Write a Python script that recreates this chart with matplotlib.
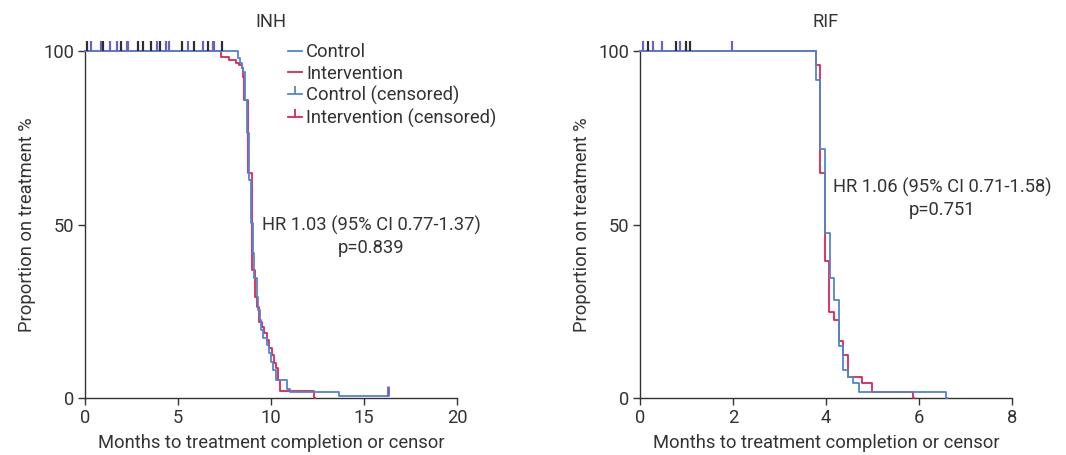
import matplotlib
matplotlib.use("Agg")
import matplotlib.pyplot as plt
from matplotlib.lines import Line2D

plt.rcParams['font.family'] = ['Roboto', 'DejaVu Sans']
plt.rcParams['font.size'] = 13
plt.rcParams['text.color'] = '#333333'
plt.rcParams['axes.labelcolor'] = '#333333'
plt.rcParams['xtick.color'] = '#333333'
plt.rcParams['ytick.color'] = '#333333'

FS = 13.2
BLUE = '#4f86d1'
RED = '#dd2456'
CENS_BLUE = '#6a62c4'
CENS_DARK = '#2e2e2e'

# INH panel: step curves (months, % on treatment)
inh_ctrl_t = [0, 8.24, 8.33, 8.42, 8.51, 8.60, 8.69, 8.82, 8.92, 9.01, 9.10, 9.23,
              9.32, 9.41, 9.46, 9.59, 9.77, 9.89, 10.00, 10.12, 10.27, 10.84,
              11.0, 13.66, 16.3]
inh_ctrl_s = [100, 97.9, 96.4, 95.0, 94.0, 85.9, 76.3, 62.8, 50.3, 41.8, 34.6, 29.2,
              25.4, 22.5, 19.6, 17.2, 15.3, 12.9, 10.5, 8.1, 5.2, 2.5,
              1.6, 0.6, 0.6]
inh_int_t = [0, 7.31, 7.76, 8.12, 8.30, 8.42, 8.48, 8.57, 8.75, 8.96, 9.14, 9.27,
             9.38, 9.50, 9.64, 9.77, 9.89, 10.04, 10.16, 10.27, 10.36, 10.48,
             12.30, 12.35]
inh_int_s = [100, 98.2, 97.4, 96.6, 96.0, 95.0, 92.6, 85.9, 64.8, 36.9, 29.2, 26.3,
             22.0, 20.5, 18.6, 16.7, 14.3, 12.4, 10.0, 8.6, 5.2, 2.1,
             0.0, 0.0]
inh_ctrl_cens_t = [0.32, 0.84, 0.91, 1.34, 1.74, 2.24, 2.31, 3.85, 4.35, 4.53,
                   5.52, 6.33, 6.86, 6.94]
inh_int_cens_t = [0.09, 0.99, 1.92, 2.83, 3.14, 3.53, 4.03, 5.23, 5.86, 6.63, 7.35]
inh_ctrl_end_cens = [16.3]
inh_ctrl_end_level = [0.6]

# RIF panel
rif_ctrl_t = [0, 3.78, 3.88, 3.98, 4.09, 4.18, 4.28, 4.37, 4.47, 4.57, 4.70, 6.58, 6.60]
rif_ctrl_s = [100, 91.5, 71.7, 47.6, 34.5, 28.2, 15.0, 8.1, 6.1, 4.2, 1.8, 0.0, 0.0]
rif_int_t = [0, 3.78, 3.88, 3.98, 4.07, 4.17, 4.28, 4.37, 4.48, 4.77, 4.98, 5.88, 5.90]
rif_int_s = [100, 96.0, 64.8, 39.6, 24.9, 22.5, 16.4, 12.4, 6.1, 4.4, 1.8, 0.0, 0.0]
rif_ctrl_cens_t = [0.07, 0.27, 0.48, 0.87, 1.97]
rif_int_cens_t = [0.18, 0.77, 0.98, 1.08]

fig = plt.figure(figsize=(10.66, 4.55), dpi=100)
ax1 = fig.add_axes([85 / 1066, 1 - 398 / 455, 372 / 1066, 347 / 455])
ax2 = fig.add_axes([640 / 1066, 1 - 398 / 455, 372 / 1066, 347 / 455])


def style(ax, xmax, xticks, title):
    ax.set_xlim(0, xmax)
    ax.set_ylim(0, 100)
    ax.set_xticks(xticks)
    ax.set_yticks([0, 50, 100])
    for s in ['top', 'right']:
        ax.spines[s].set_visible(False)
    for s in ['left', 'bottom']:
        ax.spines[s].set_color('#333333')
        ax.spines[s].set_linewidth(1.0)
    ax.tick_params(length=5, width=1.0, labelsize=FS, pad=3)
    ax.set_xlabel('Months to treatment completion or censor', fontsize=FS, labelpad=5)
    ax.set_ylabel('Proportion on treatment %', fontsize=FS, labelpad=5)
    ax.set_title(title, fontsize=FS, pad=17)


def draw(ax, ct, cs, it, is_, ccens, icens):
    ax.step(it, is_, where='post', color=RED, lw=1.3, clip_on=False, zorder=3)
    ax.step(ct, cs, where='post', color=BLUE, lw=1.3, clip_on=False, zorder=4)
    ax.plot(ccens, [100] * len(ccens), ls='none', marker=2, ms=7, mew=1.6,
            color=CENS_BLUE, clip_on=False, zorder=5)
    ax.plot(icens, [100] * len(icens), ls='none', marker=2, ms=7, mew=1.6,
            color=CENS_DARK, clip_on=False, zorder=5)


draw(ax1, inh_ctrl_t, inh_ctrl_s, inh_int_t, inh_int_s, inh_ctrl_cens_t, inh_int_cens_t)
ax1.plot(inh_ctrl_end_cens, inh_ctrl_end_level, ls='none', marker=2, ms=7, mew=2,
         color=CENS_BLUE, clip_on=False, zorder=5)
style(ax1, 20, [0, 5, 10, 15, 20], 'INH')
ax1.text(15.4, 46.5, 'HR 1.03 (95% CI 0.77-1.37)\np=0.839', ha='center', va='center',
         fontsize=FS, linespacing=1.3)

draw(ax2, rif_ctrl_t, rif_ctrl_s, rif_int_t, rif_int_s, rif_ctrl_cens_t, rif_int_cens_t)
style(ax2, 8, [0, 2, 4, 6, 8], 'RIF')
ax2.text(6.5, 57.5, 'HR 1.06 (95% CI 0.71-1.58)\np=0.751', ha='center', va='center',
         fontsize=FS, linespacing=1.3)

handles = [
    Line2D([], [], color=BLUE, lw=1.3),
    Line2D([], [], color=RED, lw=1.3),
    Line2D([], [], color=BLUE, lw=1.3, marker=2, ms=6, mew=1.3),
    Line2D([], [], color=RED, lw=1.3, marker=2, ms=6, mew=1.3),
]
labels = ['Control', 'Intervention', 'Control (censored)', 'Intervention (censored)']
ax1.legend(handles, labels, loc='upper left', bbox_to_anchor=(0.545, 1.022), frameon=False,
           fontsize=FS, handlelength=0.8, handletextpad=0.2, labelspacing=0.18,
           borderaxespad=0, borderpad=0)

fig.savefig('out.png', dpi=100)
